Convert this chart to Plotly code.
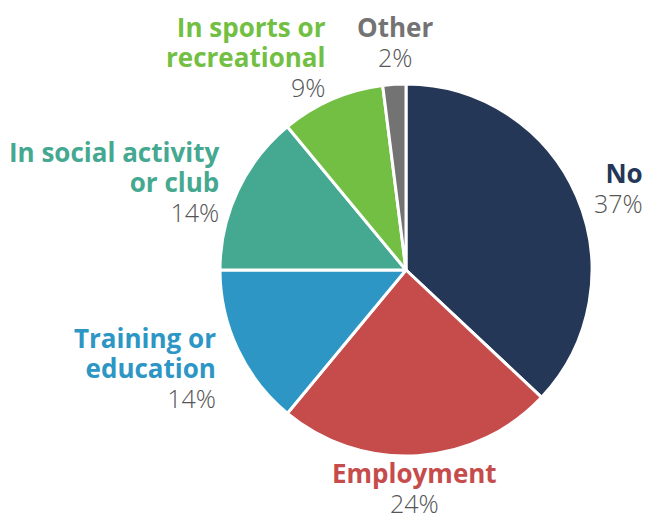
import plotly.graph_objects as go

categories = ["No", "Employment", "Training or education", "In social activity or club",
              "In sports or recreational", "Other"]
values = [37, 24, 14, 14, 9, 2]
label_lines = [["No"], ["Employment"], ["Training or", "education"], ["In social activity", "or club"],
               ["In sports or", "recreational"], ["Other"]]
colors = ["#243757", "#c64b4b", "#2d96c4", "#45a890", "#72bf44", "#737373"]

W, H = 650, 520
OFF = 8  # page body margin
cx, cy, r = 406 - OFF, 270 - OFF, 186

def px(x):
    return (x - OFF) / W

def py(y):
    return 1 - (y - OFF) / H

fig = go.Figure(go.Pie(
    labels=categories, values=values, sort=False, direction="clockwise", rotation=0,
    marker=dict(colors=colors, line=dict(color="white", width=3)),
    textinfo="none", hoverinfo="label+percent", showlegend=False,
    domain=dict(x=[(cx - r) / W, (cx + r) / W], y=[(H - cy - r) / H, (H - cy + r) / H]),
))

# label block placement in screen pixels: x, y of block centre, anchor
placement = [
    (645, 187, "right"),
    (414, 487, "center"),
    (218, 367, "right"),
    (221, 182, "right"),
    (328, 56, "right"),
    (395, 41, "center"),
]
ann = []
for lines, val, col, (x0, y0, anc) in zip(label_lines, values, colors, placement):
    parts = ["<span style='font-size:26px;font-weight:800;color:%s'><b>%s</b></span>" % (col, ln)
             for ln in lines]
    parts.append("<span style='font-size:25px;font-weight:300;color:#555555'>%d%%</span>" % val)
    ann.append(dict(x=px(x0), y=py(y0), xref="paper", yref="paper",
                    xanchor=anc, yanchor="middle", align=anc, text="<br>".join(parts),
                    showarrow=False,
                    font=dict(family="Open Sans", size=23, color=col)))

fig.update_layout(width=W, height=H, margin=dict(l=0, r=0, t=0, b=0),
                  paper_bgcolor="white", plot_bgcolor="white", annotations=ann)
fig.write_html("out.html")
